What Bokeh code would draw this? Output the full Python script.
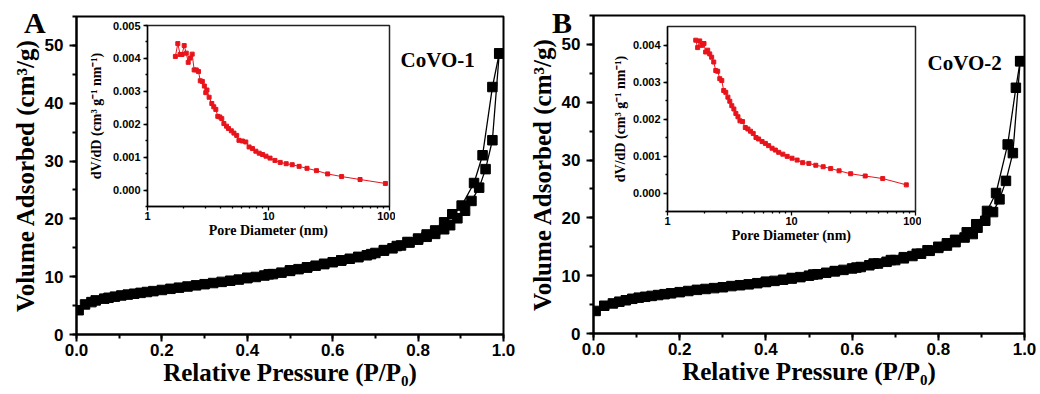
from bokeh.plotting import figure
from bokeh.models import (Range1d, Label, SingleIntervalTicker, FixedTicker,
                          NumeralTickFormatter, Column, Div)
from bokeh.embed import file_html
from bokeh.resources import INLINE

# ---------------- data ----------------
# Panel A isotherm (CoVO-1)
a_ads_p = [0.005, 0.02, 0.035, 0.045, 0.065, 0.075, 0.09, 0.105, 0.12, 0.135, 0.15, 0.165, 0.18,
           0.20, 0.22, 0.24, 0.26, 0.28, 0.30, 0.32, 0.34, 0.36, 0.38, 0.40, 0.42, 0.44, 0.46,
           0.48, 0.50, 0.52, 0.54, 0.56, 0.58, 0.60, 0.62, 0.64, 0.66, 0.68, 0.70, 0.72, 0.74,
           0.76, 0.78, 0.80, 0.82, 0.84, 0.861, 0.875, 0.892, 0.91, 0.925, 0.943, 0.958, 0.974, 0.99]
a_ads_v = [4.2, 5.2, 5.6, 5.9, 6.2, 6.35, 6.55, 6.75, 6.9, 7.05, 7.2, 7.35, 7.5,
           7.7, 7.9, 8.1, 8.3, 8.5, 8.7, 8.9, 9.1, 9.3, 9.5, 9.75, 9.95, 10.2, 10.45,
           10.7, 11.0, 11.3, 11.6, 11.9, 12.2, 12.5, 12.8, 13.1, 13.4, 13.7, 14.1, 14.5, 14.9,
           15.4, 15.9, 16.4, 16.9, 17.4, 18.2, 18.9, 20.1, 21.4, 23.1, 25.4, 28.6, 33.6, 48.6]
a_des_p = [0.99, 0.974, 0.951, 0.931, 0.902, 0.880, 0.861, 0.84, 0.82, 0.80, 0.775, 0.75,
           0.72, 0.69, 0.66, 0.62, 0.58, 0.54, 0.50, 0.45, 0.40]
a_des_v = [48.6, 42.8, 31.0, 26.2, 22.3, 20.8, 19.4, 18.0, 17.3, 16.6, 16.0, 15.3,
           14.6, 13.9, 13.4, 12.8, 12.2, 11.6, 11.1, 10.4, 9.8]

# Panel B isotherm (CoVO-2)
b_ads_p = [0.005, 0.025, 0.045, 0.06, 0.075, 0.09, 0.105, 0.12, 0.135, 0.15, 0.165, 0.18,
           0.20, 0.22, 0.24, 0.26, 0.28, 0.30, 0.32, 0.34, 0.36, 0.38, 0.40, 0.42, 0.44, 0.46,
           0.48, 0.50, 0.52, 0.54, 0.56, 0.58, 0.60, 0.62, 0.64, 0.66, 0.68, 0.70, 0.72, 0.74,
           0.76, 0.78, 0.80, 0.82, 0.84, 0.861, 0.880, 0.891, 0.909, 0.927, 0.942, 0.957, 0.973, 0.99]
b_ads_v = [3.9, 4.8, 5.2, 5.5, 5.75, 6.0, 6.2, 6.35, 6.5, 6.65, 6.8, 6.95,
           7.15, 7.35, 7.55, 7.7, 7.85, 8.0, 8.2, 8.35, 8.5, 8.7, 8.9, 9.1, 9.3, 9.5,
           9.75, 10.0, 10.25, 10.5, 10.75, 11.0, 11.25, 11.5, 11.8, 12.1, 12.4, 12.7, 13.0, 13.4,
           13.8, 14.3, 14.8, 15.2, 15.8, 16.6, 17.2, 18.3, 19.5, 21.0, 23.2, 26.4, 31.2, 47.1]
b_des_p = [0.99, 0.98, 0.961, 0.934, 0.913, 0.888, 0.866, 0.839, 0.82, 0.80, 0.775, 0.75,
           0.72, 0.69, 0.65, 0.61, 0.56, 0.51, 0.46, 0.40]
b_des_v = [47.1, 42.5, 32.7, 24.3, 21.2, 18.9, 17.5, 16.2, 15.6, 15.0, 14.4, 13.8,
           13.2, 12.7, 12.1, 11.4, 10.8, 10.2, 9.6, 8.95]

# Inset A pore size distribution
ia_d = [1.70, 1.78, 1.86, 1.93, 2.01, 2.09, 2.17, 2.25, 2.34, 2.43, 2.53, 2.64, 2.73, 2.84,
        2.95, 3.03, 3.10, 3.23, 3.40, 3.53, 3.67, 3.81, 3.96, 4.11, 4.28, 4.50, 4.67, 4.93,
        5.18, 5.46, 5.70, 6.09, 6.49, 6.91, 7.37, 7.86, 8.38, 8.93, 9.53, 10.3, 11.3, 12.5,
        14.0, 15.7, 17.9, 20.8, 24.9, 30.8, 40.2, 57.1, 92.5]
ia_v = [0.00406, 0.00445, 0.00412, 0.00412, 0.00439, 0.00416, 0.00388, 0.00401, 0.00413,
        0.00365, 0.00365, 0.00360, 0.00332, 0.00330, 0.00316, 0.00296, 0.00304, 0.00282,
        0.00263, 0.00253, 0.00245, 0.00224, 0.00222, 0.00217, 0.00202, 0.00194, 0.00187,
        0.00180, 0.00173, 0.00166, 0.00151, 0.00149, 0.00146, 0.00131, 0.00126, 0.00118,
        0.00112, 0.00108, 0.00103, 0.00097, 0.00090, 0.00084, 0.00080, 0.00077, 0.00072,
        0.00066, 0.00059, 0.00049, 0.00041, 0.00032, 0.00020]

# Inset B pore size distribution
ib_d = [1.69, 1.75, 1.82, 1.89, 1.97, 2.03, 2.11, 2.19, 2.27, 2.36, 2.45, 2.54, 2.64, 2.74,
        2.84, 2.95, 3.07, 3.18, 3.30, 3.43, 3.56, 3.70, 3.84, 4.03, 4.24, 4.45, 4.67, 4.91,
        5.17, 5.43, 5.79, 6.16, 6.54, 6.97, 7.41, 7.88, 8.51, 9.23, 10.1, 11.1, 12.3, 13.8,
        15.7, 18.0, 20.7, 24.2, 30.0, 39.3, 54.4, 84.3]
ib_v = [0.00413, 0.00393, 0.00411, 0.00399, 0.00404, 0.00381, 0.00386, 0.00376, 0.00367,
        0.00354, 0.00331, 0.00329, 0.00309, 0.00304, 0.00277, 0.00272, 0.00259, 0.00248,
        0.00236, 0.00227, 0.00215, 0.00206, 0.00195, 0.00193, 0.00177, 0.00173, 0.00167,
        0.00161, 0.00150, 0.00146, 0.00139, 0.00134, 0.00128, 0.00121, 0.00116, 0.00110,
        0.00105, 0.00099, 0.00094, 0.00089, 0.00082, 0.00080, 0.00075, 0.00071, 0.00066,
        0.00060, 0.00052, 0.00046, 0.00039, 0.00022]

panel_letters = ["A", "B"]
sample_names = ["CoVO-1", "CoVO-2"]
x_title = "Relative Pressure (P/P\u2080)"
y_title = "Volume Adsorbed (cm\u00b3/g)"
inset_x_title = "Pore Diameter (nm)"
inset_y_title = "dV/dD (cm\u00b3 g\u207b\u00b9 nm\u207b\u00b9)"
inset_major = [1, 10, 100]
inset_minor = [m * d for d in [1, 10] for m in range(2, 10)]

SERIF = "Liberation Serif"
SANS = "Liberation Sans"

MAIN_BL, MAIN_BR, MAIN_BT, MAIN_BB = 80, 16, 16, 60
INS_BL, INS_BR, INS_BT, INS_BB = 80, 6, 5, 36


def absolute(p, left, top, extra=None):
    st = {"position": "absolute", "left": f"{left}px", "top": f"{top}px"}
    if extra:
        st.update(extra)
    p.styles = st


def style_axes(p, tick_size, label_size, major_out, minor_out, line_w, std_major, std_label):
    for ax in (p.xaxis[0], p.yaxis[0]):
        ax.axis_line_width = line_w
        ax.major_tick_line_width = line_w
        ax.minor_tick_line_width = line_w
        ax.major_tick_in = 0
        ax.major_tick_out = major_out
        ax.minor_tick_in = 0
        ax.minor_tick_out = minor_out
        ax.major_label_text_font = SANS
        ax.major_label_text_font_style = "bold"
        ax.major_label_text_font_size = tick_size
        ax.major_label_text_color = "black"
        ax.axis_label_text_font = SERIF
        ax.axis_label_text_font_style = "bold"
        ax.axis_label_text_font_size = label_size
        ax.axis_label_text_color = "black"
        ax.axis_line_color = "black"
        ax.major_tick_line_color = "black"
        ax.minor_tick_line_color = "black"
    p.xaxis[0].major_label_standoff = std_major[0]
    p.yaxis[0].major_label_standoff = std_major[1]
    p.xaxis[0].axis_label_standoff = std_label[0]
    p.yaxis[0].axis_label_standoff = std_label[1]
    p.xgrid.visible = False
    p.ygrid.visible = False


def main_panel(name, name_xy, ads_p, ads_v, des_p, des_v, fw, fh, frame_left, frame_top):
    p = figure(frame_width=fw, frame_height=fh, x_range=Range1d(0, 1), y_range=Range1d(0, 55),
               output_backend="svg", toolbar_location=None,
               min_border_left=MAIN_BL, min_border_right=MAIN_BR,
               min_border_top=MAIN_BT, min_border_bottom=MAIN_BB,
               background_fill_color="white", border_fill_alpha=0)
    p.outline_line_color = "black"
    p.outline_line_width = 2
    p.xaxis.axis_label = x_title
    p.yaxis.axis_label = y_title
    p.xaxis.ticker = SingleIntervalTicker(interval=0.2, num_minor_ticks=2)
    p.yaxis.ticker = SingleIntervalTicker(interval=10, num_minor_ticks=2)
    p.xaxis.formatter = NumeralTickFormatter(format="0.0")
    style_axes(p, "17px", "25px", 7, 4, 2, (2, 6), (0, 3))
    p.line(ads_p, ads_v, line_color="black", line_width=1.3)
    p.line(des_p, des_v, line_color="black", line_width=1.3)
    p.scatter(ads_p, ads_v, marker="square", size=9.5, color="black")
    p.scatter(des_p, des_v, marker="square", size=9.5, color="black")
    p.add_layout(Label(x=name_xy[0], y=name_xy[1], text=name, text_font=SERIF,
                       text_font_style="bold", text_font_size="21px", text_color="black",
                       text_baseline="alphabetic"))
    absolute(p, frame_left - MAIN_BL, frame_top - MAIN_BT)
    return p


def letter_panel(letter, left, top):
    d = Div(text=letter, width=40, height=36)
    absolute(d, left, top, {"font-family": SERIF, "font-weight": "bold", "font-size": "30px",
                            "line-height": "30px", "color": "black", "margin": "0",
                            "padding": "0"})
    return d


def inset_panel(d, v, ymax, fw, fh, ylab_std, frame_left, frame_top):
    p = figure(frame_width=fw, frame_height=fh, x_range=Range1d(1, 100),
               y_range=Range1d(-0.0005, ymax), x_axis_type="log",
               output_backend="svg", toolbar_location=None,
               min_border_left=INS_BL, min_border_right=INS_BR,
               min_border_top=INS_BT, min_border_bottom=INS_BB,
               background_fill_color="white", border_fill_alpha=0)
    p.outline_line_color = "#222222"
    p.outline_line_width = 1.5
    p.xaxis.axis_label = inset_x_title
    p.yaxis.axis_label = inset_y_title
    p.xaxis.ticker = FixedTicker(ticks=inset_major, minor_ticks=inset_minor)
    p.xaxis.formatter = NumeralTickFormatter(format="0")
    p.yaxis.ticker = SingleIntervalTicker(interval=0.001, num_minor_ticks=2)
    p.yaxis.formatter = NumeralTickFormatter(format="0.000")
    style_axes(p, "11px", "14px", 4, 2, 1.3, (1, 3), (0, ylab_std))
    p.line(d, v, line_color="#e8141b", line_width=1)
    p.scatter(d, v, marker="square", size=4, color="#e8141b")
    absolute(p, frame_left - INS_BL, frame_top - INS_BT)
    return p


pA = main_panel(sample_names[0], (0.759, 47.4), a_ads_p, a_ads_v, a_des_p, a_des_v,
                427, 319, 76, 16)
pB = main_panel(sample_names[1], (0.775, 46.8), b_ads_p, b_ads_v, b_des_p, b_des_v,
                431, 322, 593, 15)
iA = inset_panel(ia_d, ia_v, 0.005, 242, 181, 6, 147, 25)
iB = inset_panel(ib_d, ib_v, 0.0045, 248, 185, 2, 667, 26)
lA = letter_panel(panel_letters[0], 24, 8)
lB = letter_panel(panel_letters[1], 552, 8)

layout = Column(children=[pA, pB, iA, iB, lA, lB], width=1040, height=394,
                styles={"position": "relative", "overflow": "hidden"})

open("out.html", "w").write(file_html(layout, INLINE))
